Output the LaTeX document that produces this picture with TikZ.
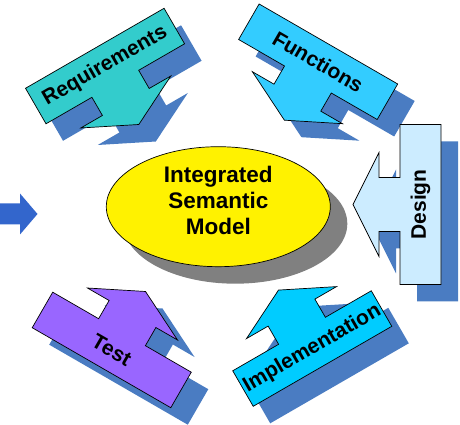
\documentclass[tikz,border=0pt]{standalone}
\usepackage{fontspec}
\setmainfont{Liberation Sans}
\usepackage{tikz}
\usetikzlibrary{calc}
\definecolor{shadowblue}{RGB}{74,124,194}
\definecolor{shadowgrey}{RGB}{128,128,128}
\definecolor{reqcolor}{RGB}{51,204,204}
\definecolor{funcolor}{RGB}{51,204,255}
\definecolor{descolor}{RGB}{204,236,255}
\definecolor{impcolor}{RGB}{0,204,255}
\definecolor{testcolor}{RGB}{153,102,255}
\definecolor{inblue}{RGB}{51,102,204}
\tikzset{
  callout path/.style={insert path={(-80,41) -- (80,41) -- (80,0) -- (27,0) -- (27,-21) -- (52,-21) -- (0,-47) -- (-52,-21) -- (-27,-21) -- (-27,0) -- (-80,0) -- cycle}},
  label text/.style={font=\bfseries\fontsize{21}{25}\selectfont, inner sep=0pt}
}
% x, y, rotation, fill, text rotation, text
\newcommand{\callout}[6]{
  \fill[shadowblue, shift={(#1+17,#2-17)}, rotate=#3, callout path];
  \filldraw[fill=#4, draw=black, line width=0.7pt, shift={(#1,#2)}, rotate=#3, callout path];
  \node[label text, rotate=#5] (#6) at ($(#1,#2)+({-20.5*sin(#3)},{20.5*cos(#3)})$) {#6};
}

\begin{document}
\begin{tikzpicture}[x=1pt,y=1pt]
    \useasboundingbox (0,0) rectangle (460,425);

    % input arrow
    \fill[inblue] (0,200.5) -- (20,200.5) -- (20,190.5) -- (37.5,211) -- (20,231.5) -- (20,221.5) -- (0,221.5) -- cycle;

    % model
    \fill[shadowgrey] (235.3,201.3) ellipse [x radius=112, y radius=60];
    \draw[fill=yellow, line width=0.7pt] (218.3,218.3) ellipse [x radius=112, y radius=60];
    \node[font=\bfseries\fontsize{22.5}{26}\selectfont, align=center] (model) at (218.3,225) {Integrated\\Semantic\\Model};

    % views
    \callout{115.3}{341.2}{30}{reqcolor}{30}{Requirements}
    \callout{307.9}{345.5}{-30}{funcolor}{-30}{Functions}
    \callout{400}{220.5}{-90}{descolor}{90}{Design}
    \callout{302}{94.2}{210}{impcolor}{30}{Implementation}
    \callout{122}{92.8}{150}{testcolor}{-30}{Test}
\end{tikzpicture}
\end{document}
